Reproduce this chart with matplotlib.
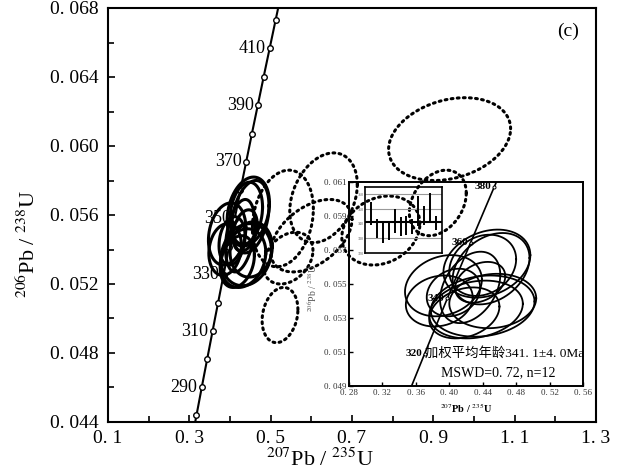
import numpy as np
import matplotlib
matplotlib.use("Agg")
import matplotlib.pyplot as plt
from matplotlib.ticker import MultipleLocator

plt.rcParams["font.family"] = ["Liberation Serif", "Noto Sans CJK SC"]
plt.rcParams["mathtext.fontset"] = "stix"

# ── Data ────────────────────────────────────────────────────────────────────
L238, L235 = 1.55125e-4, 9.8485e-4          # decay constants per Ma
CONC_AGES = list(range(280, 421, 10))        # concordia markers (main)
CONC_LABELS = [290, 310, 330, 350, 370, 390, 410]
INSET_AGES = [320, 340, 360, 380]

# concordant analyses (solid): 207/235 centre, 206/238 centre, half-widths, rho
ELL_X = [0.445, 0.450, 0.440, 0.437, 0.393, 0.388, 0.440, 0.432, 0.418, 0.452, 0.405, 0.425]
ELL_Y = [0.0562, 0.0559, 0.0561, 0.0551, 0.0549, 0.0540, 0.0537, 0.0535, 0.0533, 0.0540, 0.0545, 0.0548]
ELL_SX = [0.052, 0.046, 0.040, 0.030, 0.046, 0.040, 0.062, 0.056, 0.042, 0.052, 0.032, 0.036]
ELL_SY = [0.0020, 0.0021, 0.0018, 0.0012, 0.0018, 0.0015, 0.0018, 0.0017, 0.0015, 0.0016, 0.0014, 0.0021]
ELL_RHO = [0.25, 0.30, 0.20, 0.30, 0.20, 0.15, 0.15, 0.20, 0.25, 0.10, 0.20, 0.35]

# discordant analyses (dotted)
DOT_X = [0.94, 0.63, 0.53, 0.60, 0.523, 0.771, 0.911, 0.543]
DOT_Y = [0.0604, 0.0570, 0.0558, 0.0548, 0.0502, 0.0551, 0.0567, 0.0535]
DOT_SX = [0.150, 0.083, 0.075, 0.100, 0.044, 0.096, 0.070, 0.061]
DOT_SY = [0.0024, 0.0026, 0.0028, 0.0021, 0.0016, 0.0020, 0.0019, 0.0015]
DOT_RHO = [0.25, 0.3, 0.2, 0.45, 0.2, 0.2, 0.3, 0.3]

# weighted-mean age bars (Ma): low, high
BAR_LO = [339.3, 330.3, 326.9, 329.0, 333.8, 331.7, 332.4, 333.0, 338.6, 339.0, 342.0, 336.0]
BAR_HI = [354.5, 343.4, 341.4, 342.0, 350.0, 344.8, 345.5, 343.0, 359.0, 352.0, 360.7, 345.5]
MEAN_AGE = 341.1


def conc(t):
    t = np.asarray(t, dtype=float)
    return np.exp(L235 * t) - 1, np.exp(L238 * t) - 1


def ellipse(cx, cy, sx, sy, rho):
    a = np.linspace(0, 2 * np.pi, 240)
    x = cx + sx * np.cos(a)
    y = cy + sy * (rho * np.cos(a) + np.sqrt(1 - rho ** 2) * np.sin(a))
    return x, y


fig = plt.figure(figsize=(6.31, 4.76), dpi=100)

# ── Main axes ───────────────────────────────────────────────────────────────
ax = fig.add_axes([108 / 631, 54 / 476, 488 / 631, 414 / 476])
ax.set_xlim(0.1, 1.3)
ax.set_ylim(0.044, 0.068)

tc = np.linspace(270, 430, 200)
cx, cy = conc(tc)
ax.plot(cx, cy, color="black", lw=1.5, zorder=2)
mx, my = conc(CONC_AGES)
ax.plot(mx, my, "o", ms=4, mfc="white", mec="black", mew=1.0, zorder=3)
for age in CONC_LABELS:
    x, y = conc(age)
    ax.annotate(str(age), (x, y), xytext=(-3, 0), textcoords="offset points",
                ha="right", va="center", fontsize=13, zorder=2)

for x0, y0, sx, sy, r in zip(DOT_X, DOT_Y, DOT_SX, DOT_SY, DOT_RHO):
    ex, ey = ellipse(x0, y0, sx, sy, r)
    ax.plot(ex, ey, color="black", lw=2.2, linestyle=(0, (0.6, 1.4)),
            dash_capstyle="round", zorder=4)

for x0, y0, sx, sy, r in zip(ELL_X, ELL_Y, ELL_SX, ELL_SY, ELL_RHO):
    ex, ey = ellipse(x0, y0, sx, sy, r)
    ax.plot(ex, ey, color="black", lw=2.2, zorder=5)

ax.xaxis.set_minor_locator(MultipleLocator(0.1))
ax.yaxis.set_minor_locator(MultipleLocator(0.002))
xt = np.arange(0.1, 1.31, 0.2)
ax.set_xticks(xt)
ax.set_xticklabels([f"{v:.1f}".replace(".", ". ") for v in xt])
yt = np.arange(0.044, 0.0681, 0.004)
ax.set_yticks(yt)
ax.set_yticklabels([f"{v:.3f}".replace(".", ". ") for v in yt])
ax.tick_params(which="both", direction="in", labelsize=14, width=1.2)
ax.tick_params(which="major", length=5)
ax.tick_params(which="minor", length=4)
ax.tick_params(axis="y", pad=7)
ax.tick_params(axis="x", pad=6)
for s in ax.spines.values():
    s.set_linewidth(1.5)

ax.set_xlabel(r"$^{207}$Pb / $^{235}$U", fontsize=16)
ax.xaxis.set_label_coords(0.434, -0.063)
ax.set_ylabel(r"$^{206}$Pb / $^{238}$U", fontsize=16)
ax.yaxis.set_label_coords(-0.14, 0.43)
ax.text(0.966, 0.965, "(c)", transform=ax.transAxes, ha="right", va="top", fontsize=14)

# ── Inset concordia ─────────────────────────────────────────────────────────
ins = fig.add_axes([349 / 631, 90 / 476, 234 / 631, 204 / 476], facecolor="none")
ins.set_xlim(0.28, 0.56)
ins.set_ylim(0.049, 0.061)
ti = np.linspace(300, 395, 100)
ix, iy = conc(ti)
ins.plot(ix, iy, color="black", lw=1.2)
jx, jy = conc(INSET_AGES)
ins.plot(jx, jy, "o", ms=2.2, mfc="white", mec="black", mew=0.7)
for age in INSET_AGES:
    x, y = conc(age)
    ins.annotate(str(age), (x, y), xytext=(-2, 0), textcoords="offset points",
                 ha="right", va="center", fontsize=8, fontweight="bold")
for x0, y0, sx, sy, r in zip(ELL_X, ELL_Y, ELL_SX, ELL_SY, ELL_RHO):
    ex, ey = ellipse(x0, y0, sx, sy, r)
    ins.plot(ex, ey, color="black", lw=1.3)

ix_t = np.arange(0.28, 0.561, 0.04)
ins.set_xticks(ix_t)
ins.set_xticklabels([f"{v:.2f}".replace(".", ". ") for v in ix_t])
iy_t = np.arange(0.049, 0.0611, 0.002)
ins.set_yticks(iy_t)
ins.set_yticklabels([f"{v:.3f}".replace(".", ". ") for v in iy_t])
ins.tick_params(direction="in", labelsize=6.5, length=3, width=1.0, pad=2,
                labelcolor="#333333")
for s in ins.spines.values():
    s.set_linewidth(1.4)
ins.set_xlabel(r"$^{207}$Pb / $^{235}$U", fontsize=7.5, fontweight="bold", labelpad=3)
ins.set_ylabel(r"$^{206}$Pb / $^{238}$U", fontsize=7, color="#555555", labelpad=3)
ins.yaxis.set_label_coords(-0.13, 0.48)

ins.text(0.325, 0.16, "加权平均年龄341. 1±4. 0Ma", transform=ins.transAxes,
         ha="left", va="center", fontsize=9.6)
ins.text(0.637, 0.064, "MSWD=0. 72, n=12", transform=ins.transAxes,
         ha="center", va="center", fontsize=10)

# ── Weighted mean mini plot ─────────────────────────────────────────────────
mini = fig.add_axes([365 / 631, 223 / 476, 77 / 631, 66 / 476], facecolor="none")
mini.set_xlim(0, 13)
mini.set_ylim(320, 365)
for g in (330, 350, 360):
    mini.axhline(g, color="#999999", lw=0.8)
mini.axhline(MEAN_AGE, color="black", lw=1.5)
for i, (lo, hi) in enumerate(zip(BAR_LO, BAR_HI), start=1):
    mini.vlines(i, lo, hi, color="black", lw=1.4)
mini.set_xticks([])
mini.set_yticks([320, 330, 340, 350, 360])
mini.tick_params(labelsize=3, length=0, pad=1, labelcolor="#555555")
for s in mini.spines.values():
    s.set_linewidth(1.2)

fig.savefig("out.png", dpi=100, facecolor="white")
